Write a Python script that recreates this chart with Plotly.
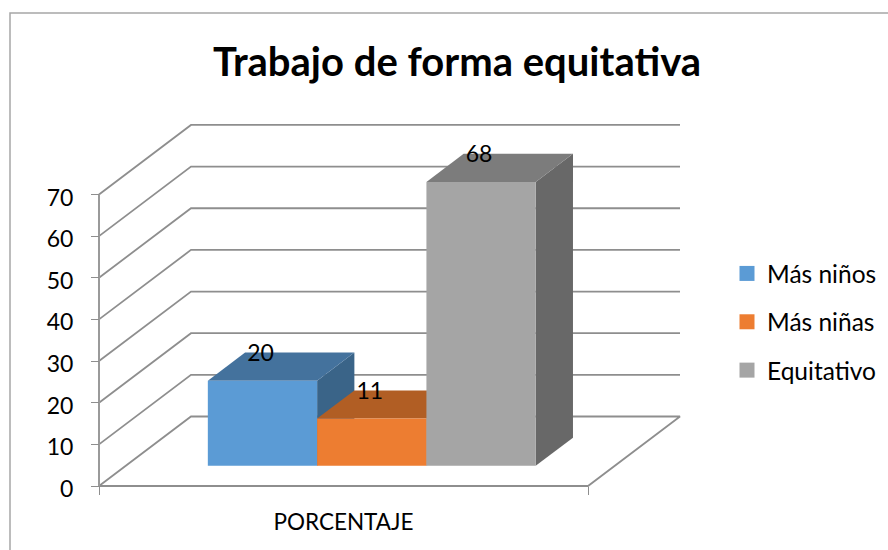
import plotly.graph_objects as go

# ---- data ----
title_text = "Trabajo de forma equitativa"
category = "PORCENTAJE"
series_names = ["Más niños", "Más niñas", "Equitativo"]
series_values = [20.45, 11.36, 68.18]
value_ticks = [0, 10, 20, 30, 40, 50, 60, 70]
front_colors = ["#5B9BD5", "#ED7D31", "#A5A5A5"]
top_colors = ["#44729D", "#B15E24", "#7C7C7C"]
side_colors = ["#3A6488", "#974F1E", "#686868"]

# ---- oblique projection of the 3D box ----
PX_W = 888; PX_H = 550
X0 = 99; UNIT_X = 489
Y0 = 486; UNIT_Y = 4.165
DEPTH_X = 92 / UNIT_X       # x shift of the back wall in category units
DEPTH_Y = 69.5 / UNIT_Y     # y shift of the back wall in value units
BAR_START = 0.168; BAR_W = 0.2235
D_FRONT = 0.29; D_BACK = 0.695
LABEL_DX = -2 / UNIT_X      # data-label nudge
LABEL_DY = -2.5 / UNIT_Y


def proj(x, v, d):
    return x + d * DEPTH_X, v + d * DEPTH_Y


def poly(points):
    xy = [proj(*p) for p in points]
    return [p[0] for p in xy], [p[1] for p in xy]


fig = go.Figure()
GRID = "#8E8E8E"

# walls: grid lines run along the side wall and the back wall
gx, gy = [], []
for v in value_ticks[1:]:
    xs, ys = poly([(0, v, 0), (0, v, 1), (1, v, 1)])
    gx += xs + [None]; gy += ys + [None]
xs, ys = poly([(0, 0, 0), (1, 0, 0), (1, 0, 1), (0, 0, 1), (0, 0, 0)])
gx += xs + [None]; gy += ys + [None]
fig.add_trace(go.Scatter(x=gx, y=gy, mode="lines", line=dict(color=GRID, width=1.8),
                         showlegend=False, hoverinfo="skip"))
xs, ys = poly([(0, value_ticks[0], 0), (0, value_ticks[-1], 0)])
fig.add_trace(go.Scatter(x=xs, y=ys, mode="lines", line=dict(color="#9A9A9A", width=2),
                         showlegend=False, hoverinfo="skip"))

# bars, drawn left to right so that each covers the previous side face
for i, (name, val) in enumerate(zip(series_names, series_values)):
    x1 = BAR_START + i * BAR_W
    x2 = x1 + BAR_W
    faces = [
        ([(x2, 0, D_FRONT), (x2, 0, D_BACK), (x2, val, D_BACK), (x2, val, D_FRONT)], side_colors[i]),
        ([(x1, val, D_FRONT), (x1, val, D_BACK), (x2, val, D_BACK), (x2, val, D_FRONT)], top_colors[i]),
        ([(x1, 0, D_FRONT), (x2, 0, D_FRONT), (x2, val, D_FRONT), (x1, val, D_FRONT)], front_colors[i]),
    ]
    for pts, col in faces:
        xs, ys = poly(pts)
        fig.add_trace(go.Scatter(x=xs + xs[:1], y=ys + ys[:1], mode="lines", fill="toself",
                                 fillcolor=col, line=dict(width=0, color=col),
                                 legendgroup=name, showlegend=False, name=name,
                                 hoverinfo="skip"))
    fig.add_trace(go.Scatter(x=[None], y=[None], mode="markers", name=name, legendgroup=name,
                             marker=dict(symbol="square", size=15, color=front_colors[i]),
                             showlegend=True))

# data labels go last, above every bar
for i, val in enumerate(series_values):
    xc = BAR_START + (i + 0.5) * BAR_W
    lx, ly = proj(xc, val, D_BACK)
    fig.add_trace(go.Scatter(x=[xc + D_FRONT * DEPTH_X + LABEL_DX], y=[ly + LABEL_DY], mode="text",
                             text=[f"{val:.0f}"], textposition="middle center",
                             textfont=dict(family="Lato", size=23, color="#000000"),
                             showlegend=False, hoverinfo="skip"))

fig.update_layout(
    width=PX_W, height=PX_H, autosize=False,
    margin=dict(l=0, r=0, t=0, b=0),
    paper_bgcolor="#FFFFFF", plot_bgcolor="#FFFFFF",
    font=dict(family="Lato", color="#000000"),
    title=dict(text=f"<b>{title_text}</b>", x=457 / PX_W, xanchor="center",
               y=1 - 62 / PX_H, yanchor="middle",
               font=dict(family="Lato", size=40, color="#000000")),
    legend=dict(x=727 / PX_W, y=1 - 322 / PX_H, xanchor="left", yanchor="middle",
                traceorder="grouped", tracegroupgap=13.5, bgcolor="rgba(0,0,0,0)",
                font=dict(family="Lato", size=24.5, color="#000000")),
    xaxis=dict(range=[-X0 / UNIT_X, (PX_W - X0) / UNIT_X], domain=[0, 1],
               anchor="free", position=(PX_H - Y0) / PX_H,
               showgrid=False, zeroline=False, showline=False,
               tickmode="array", tickvals=[0.5], ticktext=[category], ticks="",
               ticklabelstandoff=20,
               tickfont=dict(family="Lato", size=22.5, color="#000000"),
               minor=dict(tickmode="array", tickvals=[0, 1], ticks="outside", ticklen=8,
                          tickwidth=1, tickcolor=GRID, showgrid=False)),
    yaxis=dict(range=[-(PX_H - Y0) / UNIT_Y, Y0 / UNIT_Y], domain=[0, 1],
               anchor="free", position=X0 / PX_W,
               showgrid=False, zeroline=False, showline=False,
               tickmode="array", tickvals=value_ticks, ticks="outside", ticklen=8,
               tickwidth=1, tickcolor=GRID, ticklabelstandoff=13, ticklabelshift=3,
               tickfont=dict(family="Lato", size=23, color="#000000")),
    shapes=[dict(type="rect", xref="paper", yref="paper",
                 x0=10 / PX_W, x1=900 / PX_W, y0=1 - 560 / PX_H, y1=1 - 13 / PX_H,
                 line=dict(color="#A6A6A6", width=1.5), layer="below")],
)
fig.write_html("out.html", config={"displayModeBar": False},
               post_script="document.body.style.margin='0';")
